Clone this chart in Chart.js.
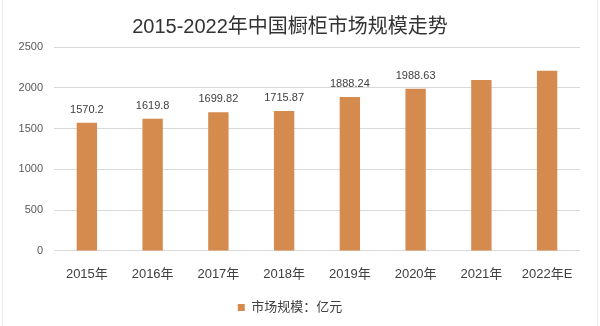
<!DOCTYPE html>
<html>
<head>
<meta charset="utf-8">
<script src="https://cdn.jsdelivr.net/npm/chart.js@4"></script>
<style>
  html, body { margin: 0; padding: 0; background: #fff; }
  #wrap { width: 600px; height: 326px; position: relative; }
</style>
</head>
<body>
<div id="wrap"><canvas id="marketChart"></canvas></div>
<script>
const years = ['2015年', '2016年', '2017年', '2018年', '2019年', '2020年', '2021年', '2022年E'];
const marketSize = [1570.2, 1619.8, 1699.82, 1715.87, 1888.24, 1988.63, 2095, 2210];
// only the first six bars carry a value label
const valueLabels = ['1570.2', '1619.8', '1699.82', '1715.87', '1888.24', '1988.63', '', ''];
const yTicks = [0, 500, 1000, 1500, 2000, 2500];

const fontStack = '"Liberation Sans", "Noto Sans CJK SC", sans-serif';
const barColor = '#D58A4E';

// white background plus the faint side frame lines
const frame = {
    id: 'frame',
    beforeDraw(chart) {
        const c = chart.ctx;
        c.save();
        c.fillStyle = '#fff';
        c.fillRect(0, 0, chart.width, chart.height);
        c.strokeStyle = '#ececec';
        c.lineWidth = 1;
        c.beginPath();
        c.moveTo(2.5, 0); c.lineTo(2.5, chart.height);
        c.moveTo(chart.width - 2.5, 0); c.lineTo(chart.width - 2.5, chart.height);
        c.stroke();
        c.restore();
    }
};

// value text above each bar
const barValues = {
    id: 'barValues',
    afterDatasetsDraw(chart) {
        const c = chart.ctx;
        const meta = chart.getDatasetMeta(0);
        c.save();
        c.font = '11px ' + fontStack;
        c.fillStyle = '#404040';
        c.textAlign = 'center';
        c.textBaseline = 'middle';
        meta.data.forEach((bar, i) => {
            if (valueLabels[i]) c.fillText(valueLabels[i], bar.x, bar.y - 13);
        });
        c.restore();
    }
};

new Chart(document.getElementById('marketChart').getContext('2d'), {
    type: 'bar',
    data: {
        labels: years,
        datasets: [{
            label: '市场规模：亿元',
            data: marketSize,
            backgroundColor: barColor,
            borderWidth: 0,
            barPercentage: 0.31,
            categoryPercentage: 1
        }]
    },
    options: {
        responsive: true,
        maintainAspectRatio: false,
        animation: false,
        events: [],
        layout: { padding: { left: 0, right: 20, top: 0, bottom: 2 } },
        plugins: {
            title: {
                display: true,
                text: '2015-2022年中国橱柜市场规模走势',
                color: '#333333',
                font: { family: fontStack, size: 20, weight: 'normal' },
                padding: { top: 15, bottom: 8 }
            },
            legend: {
                position: 'bottom',
                labels: {
                    color: '#404040',
                    font: { family: fontStack, size: 13 },
                    boxWidth: 7,
                    boxHeight: 7,
                    padding: 7.5
                }
            },
            tooltip: { enabled: false }
        },
        scales: {
            x: {
                afterFit(scale) { scale.height += 3; },
                grid: { display: false },
                border: { display: false },
                ticks: {
                    color: '#404040',
                    font: { family: fontStack, size: 13 },
                    padding: 8,
                    maxRotation: 0
                }
            },
            y: {
                min: 0,
                max: 2500,
                afterFit(scale) { scale.width = 54; },
                afterBuildTicks(scale) { scale.ticks = yTicks.map(v => ({ value: v })); },
                grid: { color: '#d9d9d9', drawTicks: false },
                border: { display: false },
                ticks: {
                    color: '#595959',
                    font: { family: fontStack, size: 11 },
                    padding: 11,
                    callback: value => String(value)
                }
            }
        }
    },
    plugins: [frame, barValues]
});
</script>
</body>
</html>
